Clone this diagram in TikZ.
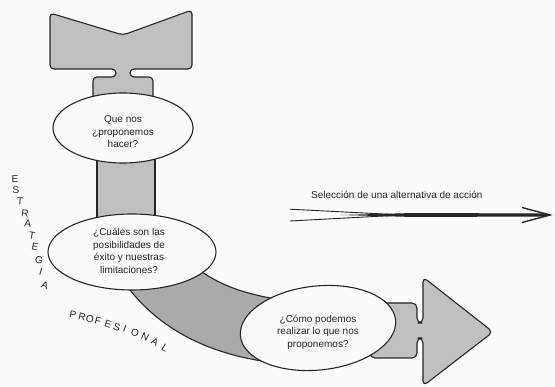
\documentclass[tikz,border=0pt]{standalone}
\usepackage{fontspec}
\setmainfont{Liberation Sans}
\usetikzlibrary{shapes.geometric}
\definecolor{paper}{RGB}{252,251,247}
\definecolor{ink}{RGB}{38,38,38}
\definecolor{shade}{RGB}{192,192,190}
\definecolor{shadeb}{RGB}{170,170,168}
\begin{document}
\begin{tikzpicture}[x=1pt,y=-1pt,
  body/.style={fill=shade, draw=ink, line width=1.1pt, line join=round},
  bodyb/.style={fill=shadeb, draw=ink, line width=1.1pt, line join=round},
  bubble/.style={ellipse, draw=ink, line width=1.1pt, fill=paper, inner sep=0pt},
  txt/.style={align=center, font=\fontsize{10}{12.5}\selectfont, text=ink, inner sep=0pt},
  letter/.style={font=\fontsize{10}{10}\selectfont, text=ink, inner sep=0pt}]
\fill[paper] (0,0) rectangle (555,387);
\useasboundingbox (0,0) rectangle (555,387);
% fletching and upper shaft
\path[body, rounded corners=4pt] (93,108) -- (93,77) -- (116,77) -- (116,69) -- (50,69) -- (50,13)
  -- (123,35) -- (192,10) -- (192,69) -- (130,69) -- (130,77) -- (153,77) -- (153,108) -- cycle;
% middle shaft
\path[body] (97,150) rectangle (155,228);
% curved band
\path[bodyb] (118,270) -- (130,290) .. controls (160,328) and (205,352) .. (262,361) -- (275,330)
  -- (270,298) .. controls (240,292) and (220,285) .. (196,268) -- cycle;
% right shaft and head
\path[body, rounded corners=5pt] (370,303) -- (417,303) -- (417,323) -- (423,323)
  -- (423,277) -- (493,332) -- (423,386) -- (423,338)
  -- (417,338) -- (417,358) -- (370,358) -- cycle;
% bubbles
\node[bubble, minimum width=140pt, minimum height=70pt] (q1) at (123,128) {};
\node[txt] (t1) at (123,132) {Que nos\\¿proponemos\\hacer?};
\node[bubble, minimum width=168pt, minimum height=76pt] (q2) at (132,252) {};
\node[txt] (t2) at (129,251) {¿Cuáles son las\\posibilidades de\\éxito y nuestras\\limitaciones?};
\node[bubble, minimum width=156pt, minimum height=84pt, rotate=6] (q3) at (318,328) {};
\node[txt] (t3) at (318,332) {¿Cómo podemos\\realizar lo que nos\\proponemos?};
% selection arrow
\node[txt, anchor=base west] (sel) at (311,199) {Selección de una alternativa de acción};
\coordinate (a1) at (290,209.2);
\coordinate (a2) at (290,221);
\coordinate (am1) at (395,214.6);
\coordinate (am2) at (395,215.4);
\coordinate (tip) at (550,215);
\draw[ink, line width=0.9pt] (a1) -- (am1);
\draw[ink, line width=0.9pt] (a2) -- (am2);
\fill[ink] (340,215) -- (410,213.1) -- (546,213.4) -- (tip) -- (546,216.6) -- (410,216.9) -- cycle;
\draw[ink, line width=1.4pt, line join=miter] (522,207.5) -- (tip) -- (522,222.5);
% ESTRATEGIA
\foreach \ch/\x/\y/\r [count=\i] in {E/15/179/0, S/16/190/0, T/20/201/-3, R/25/213/-6, A/28/224/-8,
  T/32/236/-10, E/35/247/-12, G/39/260/-15, I/41/272/-17, A/45/285/-20}
  \node[letter, rotate=\r] (e\i) at (\x,\y) {\ch};
% PROFESIONAL
\foreach \ch/\x/\y/\r [count=\i] in {P/73/315/-10, R/82/317/-12, O/90/319/-13, F/98/321/-15,
  E/108/324/-17, S/117/327/-19, I/125/329/-21, O/135/333/-23, N/145/337/-25, A/155/342/-28, L/165/348/-31}
  \node[letter, rotate=\r] (p\i) at (\x,\y) {\ch};
\end{tikzpicture}
\end{document}
